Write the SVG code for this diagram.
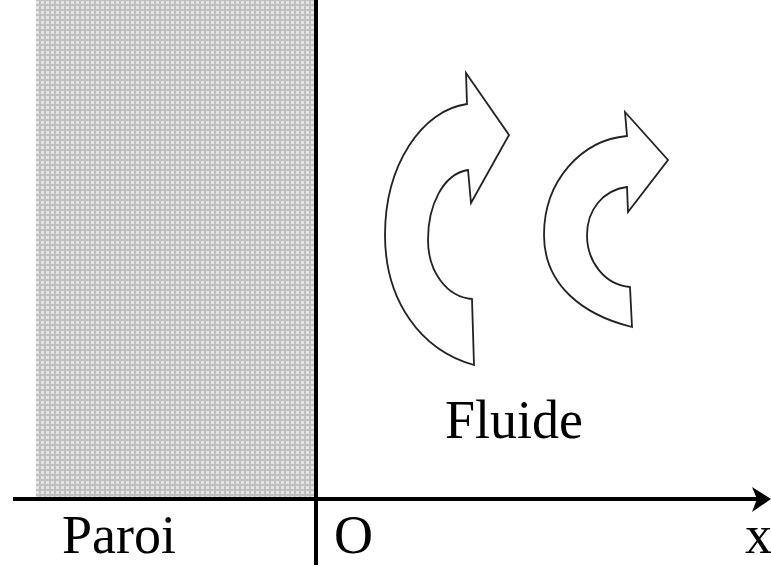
<svg xmlns="http://www.w3.org/2000/svg" width="771" height="567" viewBox="0 0 771 567">
  <style>
    .lbl { font-family: "Liberation Serif", "Times New Roman", serif; font-size: 54px; fill: #000; }
    .eddy { fill: #fff; stroke: #222; stroke-width: 1.8; stroke-linejoin: miter; }
    .axis { stroke: #000; stroke-width: 4; fill: none; }
  </style>
  <defs>
    <pattern id="grid" width="5" height="5" patternUnits="userSpaceOnUse">
      <rect width="5" height="5" fill="#c0c0c0"/>
      <rect x="1" y="1" width="3" height="3" fill="#e4e4e4"/>
    </pattern>
  </defs>

  <!-- solid wall -->
  <g id="wall">
    <rect x="36" y="0" width="279" height="498" fill="url(#grid)"/>
  </g>

  <!-- eddies in the fluid -->
  <g id="eddy-large">
    <path class="eddy" d="M466,73 L509,135 L471,203 L468,170 C443,174 428,205 428,240 C428,272 447,297 472,299 L474,365 C420,350 385,300 385,235 C385,165 422,110 467,104 Z"/>
  </g>
  <g id="eddy-small">
    <path class="eddy" d="M625,112 L668,160 L628,212 L627,187 C603,190 587,210 587,235 C587,262 605,285 630,287 L632,327 C583,315 544,285 544,235 C544,180 582,140 627,136 Z"/>
  </g>

  <!-- axes -->
  <g id="connectors">
    <line class="axis" x1="13" y1="499" x2="760" y2="499"/>
    <path d="M752,487 L771,499 L752,512 L757,499 Z" fill="#000"/>
    <line class="axis" x1="316" y1="0" x2="316" y2="565"/>
  </g>

  <!-- labels -->
  <g id="labels">
    <text class="lbl" x="445" y="438">Fluide</text>
    <text class="lbl" x="62" y="553">Paroi</text>
    <text class="lbl" x="334" y="553">O</text>
    <text class="lbl" x="745" y="553">x</text>
  </g>
</svg>
